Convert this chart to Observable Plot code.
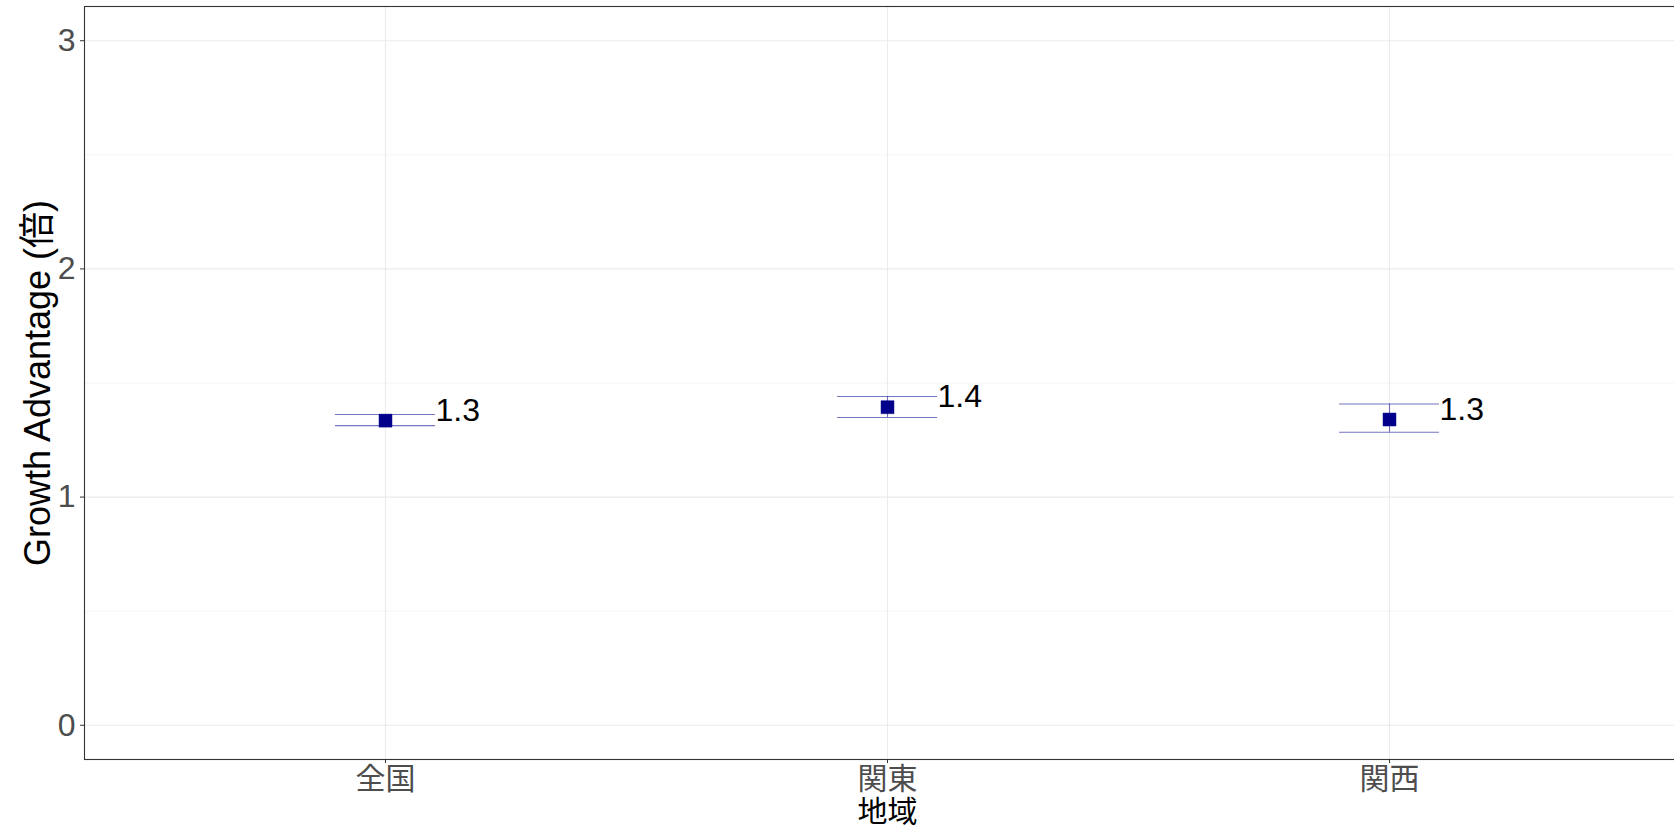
<!DOCTYPE html>
<html>
<head>
<meta charset="utf-8">
<script src="https://cdn.jsdelivr.net/npm/d3@7"></script>
<script src="https://cdn.jsdelivr.net/npm/@observablehq/plot@0.6"></script>
<style>
  html, body { margin: 0; padding: 0; background: #fff; }
  #chart svg { display: block; }
</style>
</head>
<body>
<div id="chart"></div>
<script>
const regions = ["全国", "関東", "関西"];
const estimate = [1.335, 1.394, 1.340];
const lower = [1.313, 1.349, 1.284];
const upper = [1.362, 1.441, 1.408];
const yTicks = [0, 1, 2, 3];
const yMinor = [0.5, 1.5, 2.5];
const xTitle = "地域";
const yTitle = "Growth Advantage (倍)";

const data = regions.map((r, i) => ({
  region: r, est: estimate[i], lo: lower[i], hi: upper[i],
  label: estimate[i].toFixed(1)
}));

const latin = "'Liberation Sans', Arial, 'Noto Sans CJK JP', sans-serif";
const cjk = "'Noto Sans CJK JP', 'Liberation Sans', sans-serif";
const W = 1674, H = 832;
const mL = 84, mT = 6, mB = 73, mR = -16.4;
const errColor = "#3a3aa8";

const chart = Plot.plot({
  width: W,
  height: H,
  marginLeft: mL,
  marginRight: mR,
  marginTop: mT,
  marginBottom: mB,
  style: { background: "#fff", overflow: "hidden" },
  x: { type: "band", domain: regions, paddingInner: 0.8, paddingOuter: 0.5, range: [mL, W - mR] },
  y: { domain: [-0.15, 3.15], range: [H - mB, mT] },
  marks: [
    Plot.gridY(yMinor, { stroke: "#ebebeb", strokeOpacity: 1, strokeWidth: 0.55 }),
    Plot.gridY(yTicks, { stroke: "#ebebeb", strokeOpacity: 1, strokeWidth: 1.1 }),
    Plot.gridX(regions, { stroke: "#ebebeb", strokeOpacity: 1, strokeWidth: 1.1 }),
    Plot.ruleX(data, { x: "region", y1: "lo", y2: "hi", stroke: errColor, strokeOpacity: 0.7, strokeWidth: 1.1 }),
    Plot.tickY(data, { x: "region", y: "lo", stroke: errColor, strokeOpacity: 0.7, strokeWidth: 1.1 }),
    Plot.tickY(data, { x: "region", y: "hi", stroke: errColor, strokeOpacity: 0.7, strokeWidth: 1.1 }),
    Plot.dot(data, { x: "region", y: "est", symbol: "square", r: 7.3, fill: "#00008B", stroke: "#00008B", strokeWidth: 0.5 }),
    Plot.text(data, { x: "region", y: "est", text: "label", textAnchor: "start", dx: 50, dy: -10,
      fontSize: 32, fill: "#000", fontFamily: latin }),
    Plot.frame({ stroke: "#333333", strokeWidth: 1.1 }),
    Plot.axisY(yTicks, { tickSize: 4, tickPadding: 5, fontSize: 32, color: "#4d4d4d", stroke: "#333333",
      fontFamily: latin, label: null, tickFormat: d => String(d) }),
    Plot.axisX(regions, { tickSize: 4, tickPadding: 4, fontSize: 30, color: "#4d4d4d", stroke: "#333333",
      fontFamily: cjk, label: null }),
    Plot.text([yTitle], { frameAnchor: "left", textAnchor: "middle", lineAnchor: "middle", dx: -46, rotate: -90,
      fontSize: 36, fill: "#000", fontFamily: latin, text: d => d }),
    Plot.text([xTitle], { x: () => regions[1], frameAnchor: "bottom", lineAnchor: "middle", dy: 53, fontSize: 30,
      fill: "#000", fontFamily: cjk, text: d => d })
  ]
});

document.getElementById("chart").appendChild(chart);
</script>
</body>
</html>
